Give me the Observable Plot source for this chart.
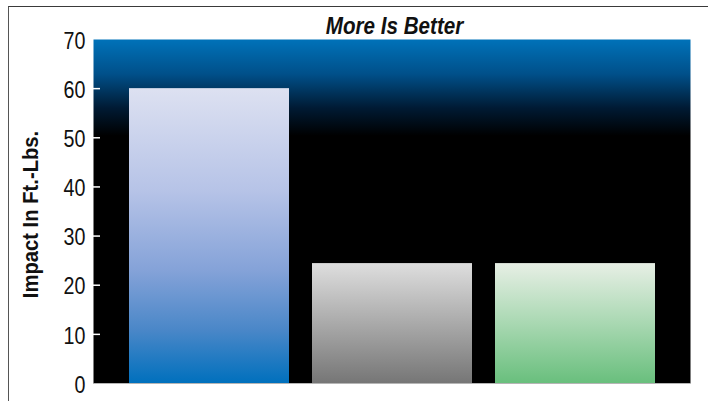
<!DOCTYPE html>
<html>
<head>
<meta charset="utf-8">
<script src="https://cdn.jsdelivr.net/npm/d3@7"></script>
<script src="https://cdn.jsdelivr.net/npm/@observablehq/plot@0.6"></script>
<style>
  html, body { margin: 0; padding: 0; background: white; }
  #wrap { position: relative; width: 708px; height: 401px; overflow: hidden; }
  #border { position: absolute; left: 8px; top: 6px; width: 720px; height: 420px;
            border-top: 1.5px solid #3a3a3a; border-left: 1.5px solid #555; box-sizing: border-box; }
  #chart { position: absolute; left: 0; top: 0; }
</style>
</head>
<body>
<div id="wrap"><div id="border"></div><div id="chart"></div></div>
<script>
const categories = ["Product A", "Product B", "Product C"];
const values = [60, 24.4, 24.4];
const gradientIds = ["gBlue", "gGray", "gGreen"];
const yTicks = [0, 10, 20, 30, 40, 50, 60, 70];
const title = "More Is Better";
const yLabel = "Impact In Ft.-Lbs.";

const data = categories.map((c, i) => ({category: c, value: values[i], fill: `url(#${gradientIds[i]})`}));

const font = "'Liberation Sans', Arial, sans-serif";

const chart = Plot.plot({
  width: 708,
  height: 401,
  marginLeft: 93,
  marginRight: 18,
  marginTop: 39,
  marginBottom: 18,
  style: {fontFamily: font, fontSize: "24px", background: "transparent", color: "#111"},
  x: {domain: categories, paddingInner: 0.126, paddingOuter: 0.194, axis: null},
  y: {domain: [0, 70], axis: null},
  color: {type: "identity"},
  marks: [
    Plot.frame({fill: "url(#gBg)", stroke: null}),
    Plot.barY(data, {x: "category", y: "value", fill: "fill"}),
    Plot.ruleY([0], {stroke: "#b5b5b5", strokeWidth: 1.2}),
    Plot.ruleY(yTicks.filter(t => t > 0 && t < 70), {y: d => d, stroke: "white", strokeWidth: 1.5, insetRight: 590}),
    Plot.axisY({ticks: yTicks, tickSize: 0, tickPadding: 8, fontSize: 24, label: null, dy: 1.5, textStroke: null}),
    Plot.text([title], {frameAnchor: "top", lineAnchor: "bottom", dy: -6, dx: 2.5, fontSize: 24, fontWeight: "bold", fontStyle: "italic", fill: "#111"}),
    Plot.text([yLabel], {frameAnchor: "left", rotate: -90, dx: -63, dy: 3, lineAnchor: "middle", textAnchor: "middle", fontSize: 22, fontWeight: "bold", fill: "#111"})
  ]
});

const svg = d3.select(chart);
const defs = svg.insert("defs", ":first-child");
function grad(id, stops) {
  const g = defs.append("linearGradient").attr("id", id)
    .attr("x1", 0).attr("y1", 0).attr("x2", 0).attr("y2", 1);
  stops.forEach(([o, c]) => g.append("stop").attr("offset", o).attr("stop-color", c));
}
grad("gBg", [[0, "#0072b9"], [0.1, "#00508a"], [0.2, "#001a33"], [0.28, "#000000"], [1, "#000000"]]);
grad("gBlue", [[0, "#dde1f1"], [0.35, "#b6c3e7"], [0.62, "#84a2d8"], [0.82, "#4a87c8"], [1, "#0070bd"]]);
grad("gGray", [[0, "#dedede"], [1, "#767676"]]);
grad("gGreen", [[0, "#e7efe5"], [0.5, "#a9d8b2"], [1, "#69bf7d"]]);

// condensed look (narrow type, as in the reference)
const tickStrings = yTicks.map(String);
svg.selectAll("text").each(function() {
  const s = this.textContent;
  let sx = null;
  if (s === title) sx = 0.86;
  else if (s === yLabel) sx = 0.92;
  else if (tickStrings.includes(s)) sx = 0.82;
  if (sx == null) return;
  const t = this.getAttribute("transform") || "";
  this.setAttribute("transform", `${t} scale(${sx},1)`);
});

document.getElementById("chart").appendChild(chart);
</script>
</body>
</html>
